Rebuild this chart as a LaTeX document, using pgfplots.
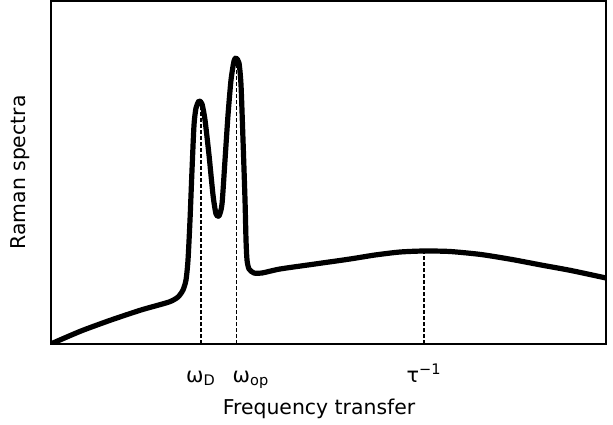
\documentclass[border=0pt]{standalone}
\usepackage{fontspec}
\setmainfont{DejaVu Sans}
\usepackage{pgfplots}
\pgfplotsset{compat=1.18}

\begin{document}
\begin{tikzpicture}
  \begin{axis}[
      at={(25.5pt,40pt)}, anchor=south west,
      scale only axis,
      width=277.5pt, height=171.5pt,
      xmin=0, xmax=555, ymin=0, ymax=343,
      axis line style={line width=1pt},
      ytick=\empty,
      xtick={150,185.5,373},
      xticklabels={ω\textsubscript{D}, \hspace*{14.5pt}ω\textsubscript{op}, τ\textsuperscript{−1}},
      major tick length=0pt,
      xticklabel style={anchor=base, yshift=-19pt, font=\fontsize{10.4}{12}\selectfont},
      xlabel={Frequency transfer},
      ylabel={Raman spectra},
      label style={font=\fontsize{10.2}{12}\selectfont},
      xlabel style={at={(axis description cs:0.483,0)}, anchor=base, yshift=-35pt},
      ylabel style={at={(axis description cs:-0.056,0.5)}, anchor=center},
    ]
    % guide lines down from the peaks
    \addplot [black, line width=0.6pt, dash pattern=on 2pt off 1pt] coordinates {(150,0) (150,240)};
    \addplot [black, line width=0.6pt, dash pattern=on 2pt off 1pt] coordinates {(185.5,0) (185.5,282)};
    \addplot [black, line width=0.6pt, dash pattern=on 2pt off 1pt] coordinates {(373,0) (373,93)};
    % spectrum
    \addplot [black, line width=2.6pt, line join=round, line cap=round, smooth, tension=0.4] coordinates {
      (2,1) (30,13) (60,24) (90,34) (118,42) (127,47) (132,54)
      (135,64) (137,84) (139,124) (141,174) (143,219) (145,236) (148,243)
      (151,240) (154,224) (158,189) (162,149) (165,130) (168,128) (171,140)
      (174,184) (177,229) (180,264) (183,283) (185,286) (188,281) (190,259)
      (192,204) (194,144) (195,104) (196,84) (198,75) (203,71) (211,71)
      (229,75) (264,80) (299,85) (324,89) (349,92) (373,93) (399,92.5)
      (430,89.5) (461,84.5) (490,79) (520,73.5) (555,66)
    };
  \end{axis}
  \path (0,0) rectangle (306.5pt,212pt);
\end{tikzpicture}
\end{document}
